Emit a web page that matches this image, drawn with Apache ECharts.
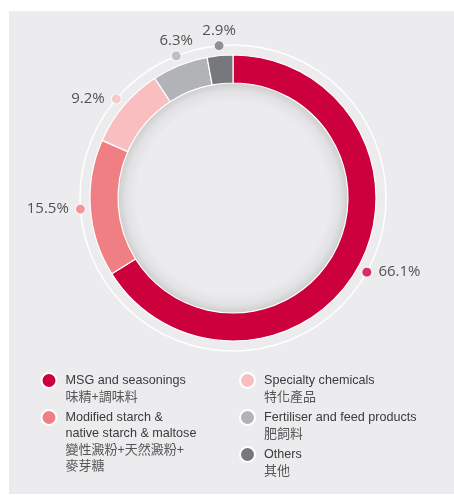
<!DOCTYPE html>
<html>
<head>
<meta charset="utf-8">
<script src="https://cdn.jsdelivr.net/npm/echarts@6/dist/echarts.min.js"></script>
<style>
html,body{margin:0;padding:0;background:#fff;}
#chart{width:454px;height:495px;}
</style>
</head>
<body>
<div id="chart"></div>
<script>
// ---- data ----
const categories = ['MSG and seasonings', 'Modified starch & native starch & maltose', 'Specialty chemicals', 'Fertiliser and feed products', 'Others'];
const shares = [66.1, 15.5, 9.2, 6.3, 2.9];
const legendEnLines = [['MSG and seasonings'], ['Modified starch &', 'native starch & maltose'], ['Specialty chemicals'], ['Fertiliser and feed products'], ['Others']];
const legendZhLines = [['味精+調味料'], ['變性澱粉+天然澱粉+', '麥芽糖'], ['特化產品'], ['肥飼料'], ['其他']];
const colors = ['#cc003d', '#ef7f83', '#f9bfc0', '#b2b3b7', '#77787b'];
const leftLegendItems = [0, 1];
const rightLegendItems = [2, 3, 4];

// ---- layout ----
const CX = 233, CY = 198;
const LINE_H = 16;

const total = shares.reduce((a, b) => a + b, 0);
let cum = 0;
const dotData = shares.map((v, i) => {
  const mid = cum + v / 2;
  cum += v;
  const deg = mid / total * 360;
  let pos = 'left';
  if (deg > 330 || deg < 30) pos = 'top';
  else if (deg < 180) pos = 'right';
  return {
    value: [1, mid / total * 100],
    itemStyle: { color: colors[i] },
    label: { position: pos, distance: pos === 'top' ? 2 : 6 }
  };
});

function legendData(idxs) {
  return idxs.map(i => {
    const n = legendEnLines[i].length + legendZhLines[i].length;
    return { name: categories[i], textStyle: { padding: [(n - 1) * LINE_H, 0, 0, 0] } };
  });
}
function legendFormatter(name) {
  const i = categories.indexOf(name);
  const en = legendEnLines[i].map(s => '{en|' + s + '}');
  const zh = legendZhLines[i].map(s => '{zh|' + s + '}');
  return en.concat(zh).join('\n');
}
const legendText = {
  fontFamily: 'Liberation Sans, Arial, sans-serif',
  fontSize: 12.6,
  color: '#3a3a3a',
  rich: {
    en: { fontFamily: 'Liberation Sans, Arial, sans-serif', fontSize: 12.6, lineHeight: LINE_H, color: '#3a3a3a' },
    zh: { fontFamily: 'Noto Sans CJK TC, sans-serif', fontSize: 13, lineHeight: LINE_H, color: '#555' }
  }
};

const chart = echarts.init(document.getElementById('chart'), null, { renderer: 'canvas' });
chart.setOption({
  backgroundColor: '#ffffff',
  animation: false,
  graphic: [{
    type: 'rect', left: 9, top: 11, z: -10, silent: true,
    shape: { width: 445, height: 483 },
    style: { fill: '#ececee' }
  }],
  polar: { center: [CX, CY], radius: 153 },
  angleAxis: {
    type: 'value', min: 0, max: 100, startAngle: 90, clockwise: true,
    axisLine: { show: true, lineStyle: { color: '#ffffff', width: 1.5 } },
    axisTick: { show: false }, axisLabel: { show: false }, splitLine: { show: false }
  },
  radiusAxis: { type: 'value', min: 0, max: 1, show: false,
    axisLine: { show: false }, axisTick: { show: false }, axisLabel: { show: false }, splitLine: { show: false } },
  legend: [
    {
      orient: 'vertical', left: 40.5, top: 372, padding: 0, itemGap: 6,
      itemWidth: 23, itemHeight: 15, icon: 'circle', selectedMode: false,
      data: legendData(leftLegendItems), formatter: legendFormatter, textStyle: legendText
    },
    {
      orient: 'vertical', left: 239, top: 372, padding: 0, itemGap: 6,
      itemWidth: 23, itemHeight: 15, icon: 'circle', selectedMode: false,
      data: legendData(rightLegendItems), formatter: legendFormatter, textStyle: legendText
    }
  ],
  series: [
    {
      type: 'pie', silent: true, center: [CX, CY], radius: [96, 115],
      label: { show: false }, labelLine: { show: false }, z: 1,
      data: [{ value: 1, name: '__shade', itemStyle: {
        color: new echarts.graphic.RadialGradient(0.5, 0.5, 0.5, [
          { offset: 0.83, color: 'rgba(0,0,0,0)' },
          { offset: 0.93, color: 'rgba(0,0,0,0.045)' },
          { offset: 1, color: 'rgba(0,0,0,0.13)' }
        ]) } }]
    },
    {
      type: 'pie', center: [CX, CY], radius: [115, 143], startAngle: 90, clockwise: true,
      silent: true, z: 2,
      label: { show: false }, labelLine: { show: false },
      itemStyle: { borderColor: '#ffffff', borderWidth: 1.2 },
      data: shares.map((v, i) => ({ name: categories[i], value: v, itemStyle: { color: colors[i] } }))
    },
    {
      type: 'scatter', coordinateSystem: 'polar', silent: true, z: 5,
      symbol: 'circle', symbolSize: 10,
      itemStyle: { borderColor: '#ffffff', borderWidth: 1.2 },
      label: {
        show: true,
        fontFamily: 'Open Sans, sans-serif', fontSize: 15, color: '#2b2b2b',
        formatter: p => shares[p.dataIndex].toFixed(1) + '%'
      },
      data: dotData
    }
  ]
});
</script>
</body>
</html>
